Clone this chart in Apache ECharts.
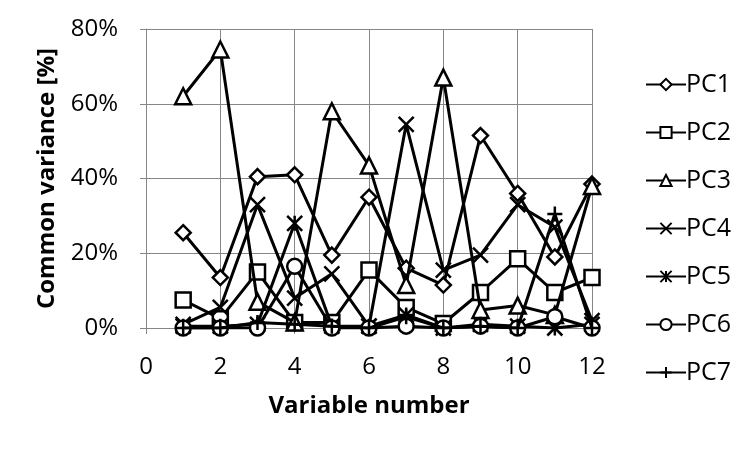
<!DOCTYPE html>
<html>
<head>
<meta charset="utf-8">
<script src="https://cdn.jsdelivr.net/npm/echarts@6/dist/echarts.min.js"></script>
<style>html,body{margin:0;padding:0;background:#fff;}#c{width:751px;height:451px;}</style>
</head>
<body>
<div id="c"></div>
<script>
const variables = [1, 2, 3, 4, 5, 6, 7, 8, 9, 10, 11, 12];
const seriesNames = ['PC1', 'PC2', 'PC3', 'PC4', 'PC5', 'PC6', 'PC7'];
const pc1 = [25.5, 13.5, 40.5, 41, 19.5, 35, 16, 11.5, 51.5, 36, 19, 38.5];
const pc2 = [7.5, 2.5, 15, 1.5, 1.5, 15.5, 5.5, 1.2, 9.5, 18.5, 9.5, 13.5];
const pc3 = [62, 74.5, 7, 1.5, 58, 43.5, 11.5, 67, 4.8, 6, 3.5, 38];
const pc4 = [1, 5.5, 33, 8, 14.5, 0.5, 54.5, 15.5, 19.5, 33, 27, 2];
const pc5 = [0.5, 0.5, 1, 28, 0.5, 0.5, 3.5, 0, 1, 0.5, 0, 1];
const pc6 = [0, 0, 0, 16.5, 0, 0, 0.5, 0, 0.5, 0, 3, 0];
const pc7 = [0, 0, 1.5, 1, 0.5, 0, 3, 0, 0.5, 0, 30.5, 0];
const yTicks = [0, 20, 40, 60, 80];
const xTicks = [0, 2, 4, 6, 8, 10, 12];

const FONT = 'Open Sans';
const values = [pc1, pc2, pc3, pc4, pc5, pc6, pc7];
const symbols = [
  'diamond',
  'rect',
  'triangle',
  'path://M0,0 L10,10 M10,0 L0,10',
  'path://M0,0 L10,10 M10,0 L0,10 M5,0 L5,10',
  'circle',
  'path://M5,0 L5,10 M0,5 L10,5'
];
const sizes = [15, 15, 16, 15, 15, 15, 15];

const chart = echarts.init(document.getElementById('c'), null, {renderer: 'canvas'});
const series = seriesNames.map((name, i) => ({
  name: name,
  type: 'line',
  data: variables.map((x, j) => [x, values[i][j]]),
  symbol: symbols[i],
  symbolSize: sizes[i],
  symbolKeepAspect: true,
  showAllSymbol: true,
  lineStyle: {color: '#000', width: 3},
  itemStyle: {color: symbols[i].startsWith('path') ? 'none' : '#fff', borderColor: '#000', borderWidth: 2.5},
  emphasis: {disabled: true},
  animation: false,
  z: 2 + i
}));

chart.setOption({
  animation: false,
  backgroundColor: '#fff',
  grid: {left: 146, right: 159, top: 29, bottom: 123, containLabel: false},
  legend: {
    orient: 'vertical',
    left: 640,
    top: 67,
    itemWidth: 40,
    itemHeight: 14,
    itemGap: 23,
    textStyle: {fontFamily: FONT, fontSize: 25, color: '#000', padding: [0, 0, 0, -5]},
    data: seriesNames
  },
  xAxis: {
    type: 'value',
    min: xTicks[0],
    max: xTicks[xTicks.length - 1],
    interval: 2,
    name: 'Variable number',
    nameLocation: 'middle',
    nameGap: 66,
    nameTextStyle: {fontFamily: FONT, fontSize: 24, fontWeight: 'bold', color: '#000'},
    axisLine: {show: true, lineStyle: {color: '#868686', width: 1}},
    axisTick: {show: true, length: 6, lineStyle: {color: '#868686'}},
    axisLabel: {fontFamily: FONT, fontSize: 24, color: '#000', margin: 27},
    splitLine: {show: true, lineStyle: {color: '#868686', width: 1}}
  },
  yAxis: {
    type: 'value',
    min: yTicks[0],
    max: yTicks[yTicks.length - 1],
    interval: 20,
    name: 'Common variance [%]',
    nameLocation: 'middle',
    nameGap: 87,
    nameTextStyle: {fontFamily: FONT, fontSize: 24, fontWeight: 'bold', color: '#000'},
    axisLine: {show: true, lineStyle: {color: '#868686', width: 1}},
    axisTick: {show: true, length: 6, lineStyle: {color: '#868686'}},
    axisLabel: {fontFamily: FONT, fontSize: 24, color: '#000', margin: 28, formatter: '{value}%'},
    splitLine: {show: true, lineStyle: {color: '#868686', width: 1}}
  },
  series: series
});
</script>
</body>
</html>
